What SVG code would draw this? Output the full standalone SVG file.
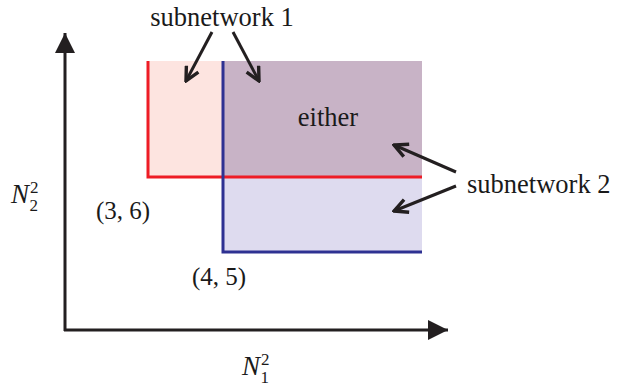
<svg xmlns="http://www.w3.org/2000/svg" width="637" height="389" viewBox="0 0 637 389">
<style>
text{font-family:"Liberation Serif","Times New Roman",serif;fill:#1a1a1a;font-size:26.5px}
.m{font-size:25px}
.n{font-size:27px}
.ax{stroke:#231f20;stroke-width:3;fill:none}
.ar{stroke:#231f20;stroke-width:3;fill:none;stroke-linecap:butt}
.it{font-style:italic}
.sm{font-size:17px}
</style>
<defs>
<marker id="tri" viewBox="0 0 10 10" refX="10" refY="5" markerUnits="userSpaceOnUse" markerWidth="23" markerHeight="20" orient="auto">
<path d="M0,0 L10,5 L0,10 Z" fill="#231f20"/>
</marker>
<marker id="vee" viewBox="0 0 10 10" refX="9" refY="5" markerUnits="userSpaceOnUse" markerWidth="17" markerHeight="17" orient="auto">
<path d="M1,1 L9,5 L1,9" fill="none" stroke="#231f20" stroke-width="2"/>
</marker>
</defs>
<g id="regions">
<rect x="148" y="61" width="75" height="116" fill="#fde4e0"/>
<rect x="223" y="61" width="199" height="116" fill="#c8b3c6"/>
<rect x="223" y="177" width="199" height="75" fill="#dedbef"/>
</g>
<g id="subnetwork1-border">
<polyline points="148,61 148,177 422,177" fill="none" stroke="#ee1c25" stroke-width="3"/>
</g>
<g id="subnetwork2-border">
<polyline points="223,61 223,252 422,252" fill="none" stroke="#2e3192" stroke-width="3"/>
</g>
<g id="axes">
<line class="ax" x1="65" y1="331" x2="65" y2="33" marker-end="url(#tri)"/>
<line class="ax" x1="64" y1="330" x2="448" y2="330" marker-end="url(#tri)"/>
</g>
<g id="connectors">
<line class="ar" x1="212" y1="32" x2="186" y2="81" marker-end="url(#vee)"/>
<line class="ar" x1="233" y1="32" x2="259" y2="81" marker-end="url(#vee)"/>
<line class="ar" x1="456" y1="172" x2="394" y2="145" marker-end="url(#vee)"/>
<line class="ar" x1="456" y1="186" x2="394" y2="211" marker-end="url(#vee)"/>
</g>
<g id="label-subnetwork1"><text x="222" y="26" text-anchor="middle">subnetwork 1</text></g>
<g id="label-either"><text x="328" y="126" text-anchor="middle">either</text></g>
<g id="label-subnetwork2"><text x="467" y="193">subnetwork 2</text></g>
<g id="label-36"><text class="m" x="96" y="219">(3, 6)</text></g>
<g id="label-45"><text class="m" x="192" y="285">(4, 5)</text></g>
<g id="label-N2"><text class="n" x="11" y="203"><tspan class="it">N</tspan><tspan class="sm" dx="1" dy="-10">2</tspan><tspan class="sm" dx="-9" dy="18">2</tspan></text></g>
<g id="label-N1"><text class="n" x="242" y="375"><tspan class="it">N</tspan><tspan class="sm" dx="1" dy="-10">2</tspan><tspan class="sm" dx="-9" dy="18">1</tspan></text></g>
</svg>
